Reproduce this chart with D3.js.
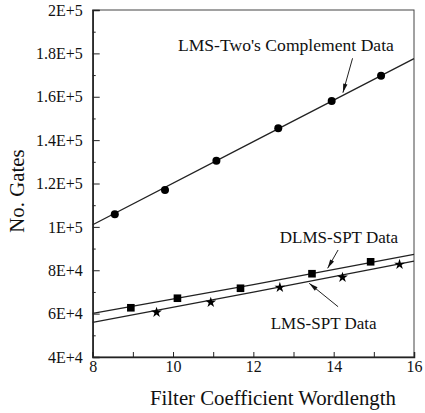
<!DOCTYPE html>
<html>
<head>
<meta charset="utf-8">
<script src="https://cdn.jsdelivr.net/npm/d3@7"></script>
<style>
  body { margin: 0; background: #fff; }
  svg text { font-family: "Liberation Serif", Tinos, "Times New Roman", "DejaVu Serif", serif !important; fill: #111; }
</style>
</head>
<body>
<div id="chart-area"></div>
<script>
// data
var twosX = [8.55, 9.80, 11.08, 12.62, 13.95, 15.18];
var twosY = [105800, 117000, 130500, 145450, 158000, 169700];
var dlmsX = [8.95, 10.11, 11.68, 13.46, 14.92];
var dlmsY = [62700, 67100, 71700, 78400, 83900];
var sptX = [9.59, 10.94, 12.66, 14.22, 15.64];
var sptY = [60600, 65200, 72100, 76750, 82700];

// fitted curves
var fitX = [8, 12, 16];
var twosFit = [101000, 139300, 177600];
var dlmsFit = [60150, 73400, 87350];
var sptFit = [56000, 69900, 84250];

var xTicks = [8, 10, 12, 14, 16];
var yTicks = [40000, 60000, 80000, 100000, 120000, 140000, 160000, 180000, 200000];
var yTickLabels = ["4E+4", "6E+4", "8E+4", "1E+5", "1.2E+5", "1.4E+5", "1.6E+5", "1.8E+5", "2E+5"];

var notes = [
    {text: "LMS-Two's Complement Data", x: 12.81, y: 183860, fromX: 14.47, fromY: 177730, toX: 14.23, toY: 161870},
    {text: "DLMS-SPT Data", x: 14.13, y: 95470, fromX: 14.11, fromY: 89340, toX: 13.85, toY: 80900},
    {text: "LMS-SPT Data", x: 13.75, y: 55540, fromX: 14.11, fromY: 63190, toX: 13.39, toY: 73980}
];

var margin = {top: 10, right: 11, bottom: 56, left: 92.7},
    width = 425 - margin.left - margin.right,
    height = 413 - margin.top - margin.bottom;

var svg = d3.select("#chart-area")
    .append("svg")
        .attr("width", 425)
        .attr("height", 413)
    .append("g")
        .attr("transform", "translate(" + margin.left + "," + margin.top + ")");

var x = d3.scaleLinear().domain([8, 16]).range([0, width]);
var y = d3.scaleLinear().domain([40000, 200000]).range([height, 0]);

// frame
svg.append("rect")
    .attr("width", width)
    .attr("height", height)
    .attr("fill", "none")
    .attr("stroke", "#444")
    .attr("stroke-width", 1);

// minor y ticks
svg.append("g")
    .call(d3.axisLeft(y).tickValues(d3.range(50000, 200000, 20000)).tickSize(-3).tickFormat(""))
    .call(g => g.select(".domain").remove())
    .selectAll("line").attr("stroke", "#222");

var yAxis = svg.append("g")
    .call(d3.axisLeft(y).tickValues(yTicks).tickSize(-7).tickPadding(10)
        .tickFormat((d, i) => yTickLabels[i]));
yAxis.select(".domain").attr("stroke", "#222").attr("stroke-width", 1.5);
yAxis.selectAll("line").attr("stroke", "#222");
yAxis.selectAll("text")
    .style("font-size", "16px")
    .attr("fill", "#111");

// x ticks every integer, labels every 2
var xAxis = svg.append("g")
    .attr("transform", "translate(0," + height + ")")
    .call(d3.axisBottom(x).tickValues(d3.range(8, 17, 1)).tickSize(-5).tickPadding(4)
        .tickFormat(d => xTicks.indexOf(d) >= 0 ? d : ""));
xAxis.select(".domain").attr("stroke", "#222").attr("stroke-width", 1.5);
xAxis.selectAll("line").attr("stroke", "#222");
xAxis.selectAll("text")
    .style("font-size", "16px")
    .attr("fill", "#111");

// axis titles
svg.append("text")
    .attr("x", x(12) + 19.6)
    .attr("y", height + 41)
    .attr("dy", "0.35em")
    .style("text-anchor", "middle")
    .style("font-size", "20.8px")
    .text("Filter Coefficient Wordlength");

svg.append("text")
    .attr("transform", "rotate(-90)")
    .attr("x", -y(116500))
    .attr("y", 17 - margin.left)
    .attr("dy", "0.35em")
    .style("text-anchor", "middle")
    .style("font-size", "20.8px")
    .text("No. Gates");

// fitted curves
var line = d3.line()
    .curve(d3.curveNatural)
    .x(d => x(d[0]))
    .y(d => y(d[1]));

[twosFit, dlmsFit, sptFit].forEach(function(f) {
    svg.append("path")
        .datum(fitX.map((v, i) => [v, f[i]]))
        .attr("fill", "none")
        .attr("stroke", "#222")
        .attr("stroke-width", 1.3)
        .attr("d", line);
});

// markers
svg.append("g").selectAll("circle")
    .data(twosX.map((v, i) => [v, twosY[i]]))
    .enter().append("circle")
    .attr("cx", d => x(d[0]))
    .attr("cy", d => y(d[1]))
    .attr("r", 4)
    .attr("fill", "#000");

svg.append("g").selectAll("path")
    .data(dlmsX.map((v, i) => [v, dlmsY[i]]))
    .enter().append("path")
    .attr("transform", d => "translate(" + x(d[0]) + "," + y(d[1]) + ")")
    .attr("d", d3.symbol().type(d3.symbolSquare).size(58))
    .attr("fill", "#000");

svg.append("g").selectAll("path")
    .data(sptX.map((v, i) => [v, sptY[i]]))
    .enter().append("path")
    .attr("transform", d => "translate(" + x(d[0]) + "," + y(d[1]) + ")")
    .attr("d", d3.symbol().type(d3.symbolStar).size(36))
    .attr("fill", "#000");

// annotations with arrows
var ann = svg.append("g").selectAll("g")
    .data(notes)
    .enter().append("g");

ann.append("text")
    .attr("x", d => x(d.x))
    .attr("y", d => y(d.y))
    .attr("dy", "0.35em")
    .style("text-anchor", "middle")
    .style("font-size", (d, i) => i == 0 ? "17.6px" : "17px")
    .text(d => d.text);

ann.append("line")
    .attr("x1", d => x(d.fromX))
    .attr("y1", d => y(d.fromY))
    .attr("x2", d => x(d.toX))
    .attr("y2", d => y(d.toY))
    .attr("stroke", "#222")
    .attr("stroke-width", 1);

ann.append("path")
    .attr("fill", "#111")
    .attr("d", function(d) {
        var x1 = x(d.fromX), y1 = y(d.fromY), x2 = x(d.toX), y2 = y(d.toY);
        var a = Math.atan2(y2 - y1, x2 - x1);
        var len = 9, w = 2.2;
        var bx = x2 - len * Math.cos(a), by = y2 - len * Math.sin(a);
        var px = -Math.sin(a) * w, py = Math.cos(a) * w;
        return "M" + x2 + "," + y2 + "L" + (bx + px) + "," + (by + py) + "L" + (bx - px) + "," + (by - py) + "Z";
    });
</script>
</body>
</html>
